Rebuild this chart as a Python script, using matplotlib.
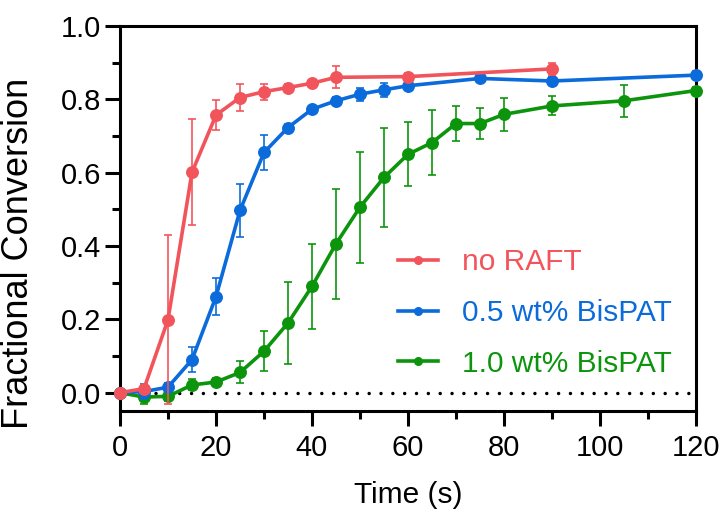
import matplotlib
matplotlib.use("Agg")
import matplotlib.pyplot as plt
from matplotlib.ticker import MultipleLocator
from matplotlib.lines import Line2D

plt.rcParams["font.family"] = ["Liberation Sans", "DejaVu Sans"]

# ---- data ----
t_red = [0, 5, 10, 15, 20, 25, 30, 35, 40, 45, 60, 90]
y_red = [0, 0.011, 0.199, 0.601, 0.757, 0.805, 0.821, 0.832, 0.844, 0.860, 0.862, 0.883]
e_red = [0, 0.01, 0.23, 0.145, 0.04, 0.038, 0.022, 0.01, 0.01, 0.03, 0.01, 0.016]

t_blue = [0, 5, 10, 15, 20, 25, 30, 35, 40, 45, 50, 55, 60, 75, 90, 120]
y_blue = [0, 0.003, 0.015, 0.09, 0.262, 0.497, 0.655, 0.723, 0.773, 0.796,
          0.814, 0.826, 0.837, 0.857, 0.850, 0.866]
e_blue = [0, 0.02, 0.01, 0.035, 0.05, 0.072, 0.048, 0.01, 0.01, 0.01,
          0.018, 0.019, 0.01, 0.01, 0.01, 0.01]

t_green = [0, 5, 10, 15, 20, 25, 30, 35, 40, 45, 50, 55, 60, 65, 70, 75, 80, 90, 105, 120]
y_green = [0, -0.012, -0.010, 0.021, 0.029, 0.055, 0.113, 0.190, 0.290, 0.406,
           0.506, 0.587, 0.650, 0.682, 0.734, 0.734, 0.759, 0.782, 0.796, 0.824]
e_green = [0, 0.02, 0.012, 0.015, 0.01, 0.03, 0.054, 0.111, 0.115, 0.15,
           0.151, 0.134, 0.087, 0.089, 0.047, 0.042, 0.045, 0.026, 0.043, 0.01]

labels = ["no RAFT", "0.5 wt% BisPAT", "1.0 wt% BisPAT"]
colors = ["#F2545B", "#0B6BDA", "#0C950C"]

fig = plt.figure(figsize=(7.26, 5.15), dpi=100)
ax = fig.add_axes([120 / 726, 1 - 411 / 515, 576 / 726, 385 / 515])

# dotted zero line
ax.axhline(0, color="black", lw=2.5, linestyle=(0, (0.01, 3.4)),
           dash_capstyle="round", zorder=1)

# drawn bottom-up so red sits on top
series = [(t_green, y_green, e_green, colors[2]),
          (t_blue, y_blue, e_blue, colors[1]),
          (t_red, y_red, e_red, colors[0])]
for i, (t, y, e, c) in enumerate(series):
    line, caps, bars = ax.errorbar(t, y, yerr=e, fmt="-o", color=c, lw=2.6,
                                   ms=8.3, elinewidth=1.4, capsize=3.2, capthick=1.4,
                                   zorder=3 + i)
    line.set_clip_on(False)
    for b in bars:
        b.set_clip_on(False)
        b.set_alpha(0.85)
    for cp in caps:
        cp.set_clip_on(False)
        cp.set_alpha(0.85)

ax.set_xlim(0, 120)
ax.set_ylim(-0.05, 1.0)
ax.xaxis.set_major_locator(MultipleLocator(20))
ax.xaxis.set_minor_locator(MultipleLocator(10))
ax.yaxis.set_major_locator(MultipleLocator(0.2))
ax.yaxis.set_minor_locator(MultipleLocator(0.1))
ax.yaxis.set_major_formatter(plt.FuncFormatter(lambda v, p: f"{v:.1f}"))

for s in ax.spines.values():
    s.set_linewidth(2.2)
ax.tick_params(which="major", length=10.5, width=2.2, labelsize=21)
ax.tick_params(which="minor", length=6, width=2.2)
ax.tick_params(axis="y", which="major", pad=3)
ax.tick_params(axis="x", which="major", pad=6)

ax.set_xlabel("Time (s)", fontsize=21.5, labelpad=14)
ax.set_ylabel("Fractional Conversion", fontsize=26)
ax.yaxis.set_label_coords(-0.145, 0.41)

handles = [Line2D([], [], color=c, lw=2.6, marker="o", ms=5.5) for c in colors]
leg = fig.legend(handles, labels, loc="center left",
                 bbox_to_anchor=(398 / 726, 1 - 313 / 515),
                 frameon=False, fontsize=21.5, handlelength=1.33,
                 handletextpad=0.83, labelspacing=0.76, borderpad=0,
                 borderaxespad=0)
for txt, c in zip(leg.get_texts(), colors):
    txt.set_color(c)

fig.savefig("out.png", dpi=100)
